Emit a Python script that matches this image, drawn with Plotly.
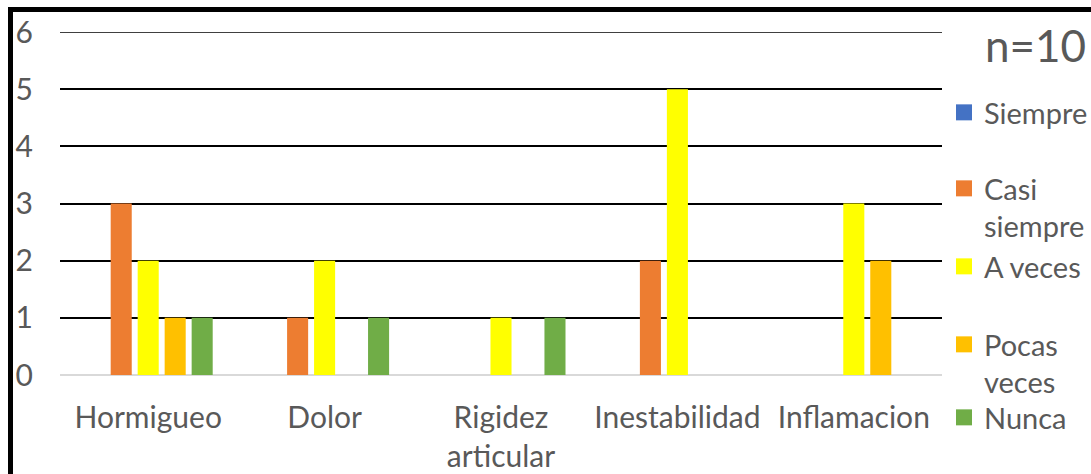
import plotly.graph_objects as go

categories = ["Hormigueo", "Dolor", "Rigidez<br>articular", "Inestabilidad", "Inflamacion"]
series_names = ["Siempre", "Casi<br>siempre", "A veces", "Pocas<br>veces", "Nunca"]
siempre = [0, 0, 0, 0, 0]
casi_siempre = [3, 1, 0, 2, 0]
a_veces = [2, 2, 1, 5, 3]
pocas_veces = [1, 0, 0, 0, 2]
nunca = [1, 1, 1, 0, 0]
y_ticks = [0, 1, 2, 3, 4, 5, 6]
legend_title = "n=10"

values = [siempre, casi_siempre, a_veces, pocas_veces, nunca]
colors = ["#4472C4", "#ED7D31", "#FFFF00", "#FFC000", "#70AD47"]

W, H = 1091, 474
L, R, T, B = 60, 149, 32, 99
pw, ph = W - L - R, H - T - B

def px_x(p):
    return (p - L) / pw

def px_y(p):
    return (H - B - p) / ph

FONT = "Lato"
GREY = "#595959"
FS = 30
LFS = 29

fig = go.Figure()
legend_ids = ["legend", "legend2", "legend3", "legend4", "legend5"]
for name, vals, col, lg in zip(series_names, values, colors, legend_ids):
    fig.add_trace(go.Bar(x=categories, y=vals, name=name, marker=dict(color=col, line=dict(width=0)),
                         showlegend=False))
    fig.add_trace(go.Scatter(x=[None], y=[None], mode="markers", name=name,
                             marker=dict(symbol="square", size=17, color=col),
                             legend=lg, showlegend=True))

# legend item (first line) positions in px
leg_y = [107, 183, 261, 339, 412]
leg_common = dict(font=dict(family=FONT, size=LFS, color=GREY), bgcolor="rgba(0,0,0,0)",
                  itemwidth=30, valign="top", xanchor="left", yanchor="top",
                  tracegroupgap=0, itemsizing="trace")
layout_legends = {}
for lg, yc in zip(legend_ids, leg_y):
    layout_legends[lg] = dict(x=px_x(944), y=px_y(yc - 20), **leg_common)

fig.update_layout(
    width=W, height=H,
    margin=dict(l=L, r=R, t=T, b=B, pad=0, autoexpand=False),
    paper_bgcolor="white", plot_bgcolor="white",
    barmode="group", bargap=0.235, bargroupgap=0.22,
    font=dict(family=FONT, size=FS, color=GREY),
    **layout_legends,
)
fig.update_xaxes(showline=False, ticks="", ticklabelstandoff=22,
                 tickfont=dict(family=FONT, size=FS, color=GREY), showgrid=False)
fig.update_yaxes(range=[0, 6], tickvals=y_ticks, showgrid=True, gridcolor="black", gridwidth=1.5,
                 zeroline=True, zerolinecolor="#D9D9D9", zerolinewidth=1.5,
                 showline=False, ticks="", ticklabelstandoff=26,
                 tickfont=dict(family=FONT, size=FS, color=GREY))

# top gridline (at the edge of the range, which Plotly omits)
fig.add_shape(type="line", xref="paper", yref="y", x0=0, x1=1, y0=y_ticks[-1], y1=y_ticks[-1],
              line=dict(color="black", width=1.5), layer="below")

fig.add_annotation(text=legend_title, xref="paper", yref="paper", x=px_x(1088), y=px_y(45),
                   xanchor="right", yanchor="middle", showarrow=False,
                   font=dict(family=FONT, size=44, color=GREY))

# outer frame (only top and left edges visible in the crop)
fig.add_shape(type="line", xref="paper", yref="paper", x0=px_x(10.5), x1=px_x(1100),
              y0=px_y(9.5), y1=px_y(9.5), line=dict(color="black", width=5))
fig.add_shape(type="line", xref="paper", yref="paper", x0=px_x(10.5), x1=px_x(10.5),
              y0=px_y(7), y1=px_y(480), line=dict(color="black", width=5))

fig.write_html("out.html")
